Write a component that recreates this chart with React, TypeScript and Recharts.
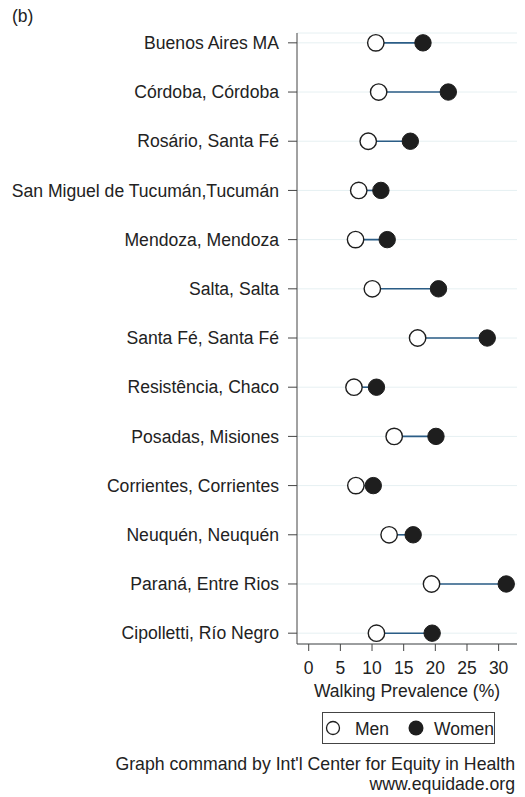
import React from 'react';
import { ScatterChart, Scatter, XAxis, YAxis, CartesianGrid } from 'recharts';

const cities = [
  'Buenos Aires MA',
  'Córdoba, Córdoba',
  'Rosário, Santa Fé',
  'San Miguel de Tucumán,Tucumán',
  'Mendoza, Mendoza',
  'Salta, Salta',
  'Santa Fé, Santa Fé',
  'Resistência, Chaco',
  'Posadas, Misiones',
  'Corrientes, Corrientes',
  'Neuquén, Neuquén',
  'Paraná, Entre Rios',
  'Cipolletti, Río Negro',
];

// walking prevalence (%), same order as cities
const menPct = [10.6, 11.05, 9.4, 7.9, 7.4, 10.05, 17.2, 7.15, 13.5, 7.45, 12.7, 19.4, 10.7];
const womenPct = [18.05, 22.05, 16.05, 11.4, 12.4, 20.5, 28.2, 10.7, 20.1, 10.2, 16.5, 31.2, 19.5];

const xTicks = [0, 5, 10, 15, 20, 25, 30];
const rowIdx = cities.map((_, i) => i);

const FONT = "'Liberation Sans', Arial, sans-serif";
const TEXT = '#222';
const AXIS = '#444';
const LINK = '#2b5d86';

const menData = cities.map((name, i) => ({ name, x: menPct[i], y: i }));
const womenData = cities.map((name, i) => ({ name, x: womenPct[i], y: i }));

const MenDot = (props: any) => (
  <circle cx={props.cx} cy={props.cy} r={8.2} fill="#fff" stroke="#1e1e1e" strokeWidth={1.4} />
);
const WomenDot = (props: any) => (
  <circle cx={props.cx} cy={props.cy} r={8.2} fill="#1e1e1e" stroke="#1e1e1e" strokeWidth={1} />
);
const NoDot = () => <g />;

export default function App() {
  return (
    <div style={{ position: 'absolute', left: 0, top: 0, width: 525, height: 797, fontFamily: FONT, color: TEXT }}>
      <ScatterChart width={525} height={797} margin={{ top: 33, right: 8, bottom: 113, left: 0 }}>
        <CartesianGrid vertical={false} stroke="#e6f0f2" strokeWidth={1} />
        <XAxis
          type="number"
          dataKey="x"
          domain={[-1.85, 32.9]}
          ticks={xTicks}
          height={40}
          tickSize={7}
          tickMargin={11}
          axisLine={{ stroke: AXIS }}
          tickLine={{ stroke: AXIS }}
          tick={{ fill: TEXT, fontSize: 17.5, fontFamily: FONT }}
          label={{ value: 'Walking Prevalence (%)', position: 'bottom', offset: 1, fill: TEXT, fontSize: 17.5, fontFamily: FONT }}
        />
        <YAxis
          type="number"
          dataKey="y"
          domain={[-0.2, 12.22]}
          reversed
          ticks={rowIdx}
          interval={0}
          width={297}
          tickSize={9}
          tickMargin={9}
          axisLine={{ stroke: AXIS }}
          tickLine={{ stroke: AXIS }}
          tick={{ fill: TEXT, fontSize: 17.6, fontFamily: FONT }}
          tickFormatter={(v: number) => cities[v] ?? ''}
        />
        {cities.map((c, i) => (
          <Scatter
            key={`link-${i}`}
            data={[menData[i], womenData[i]]}
            line={{ stroke: LINK, strokeWidth: 1.6 }}
            shape={NoDot}
            legendType="none"
            isAnimationActive={false}
          />
        ))}
        <Scatter name="Men" data={menData} shape={MenDot} isAnimationActive={false} />
        <Scatter name="Women" data={womenData} shape={WomenDot} isAnimationActive={false} />
      </ScatterChart>

      <div style={{ position: 'absolute', left: 12, top: 6, fontSize: 17.5 }}>(b)</div>

      <svg style={{ position: 'absolute', left: 322, top: 712 }} width={173} height={32}>
        <rect x={0.5} y={0.5} width={172} height={31} fill="#fff" stroke={AXIS} strokeWidth={1} />
        <circle cx={11} cy={16} r={6.5} fill="#fff" stroke="#1e1e1e" strokeWidth={1.3} />
        <text x={33} y={22.5} fontSize={17.5} fontFamily={FONT} fill={TEXT}>Men</text>
        <circle cx={94} cy={16} r={7.5} fill="#1e1e1e" />
        <text x={112} y={22.5} fontSize={17.5} fontFamily={FONT} fill={TEXT}>Women</text>
      </svg>

      <div style={{ position: 'absolute', right: 10, top: 754, fontSize: 17.7, lineHeight: '20px', textAlign: 'right' }}>
        Graph command by Int'l Center for Equity in Health
        <br />
        www.equidade.org
      </div>
    </div>
  );
}
